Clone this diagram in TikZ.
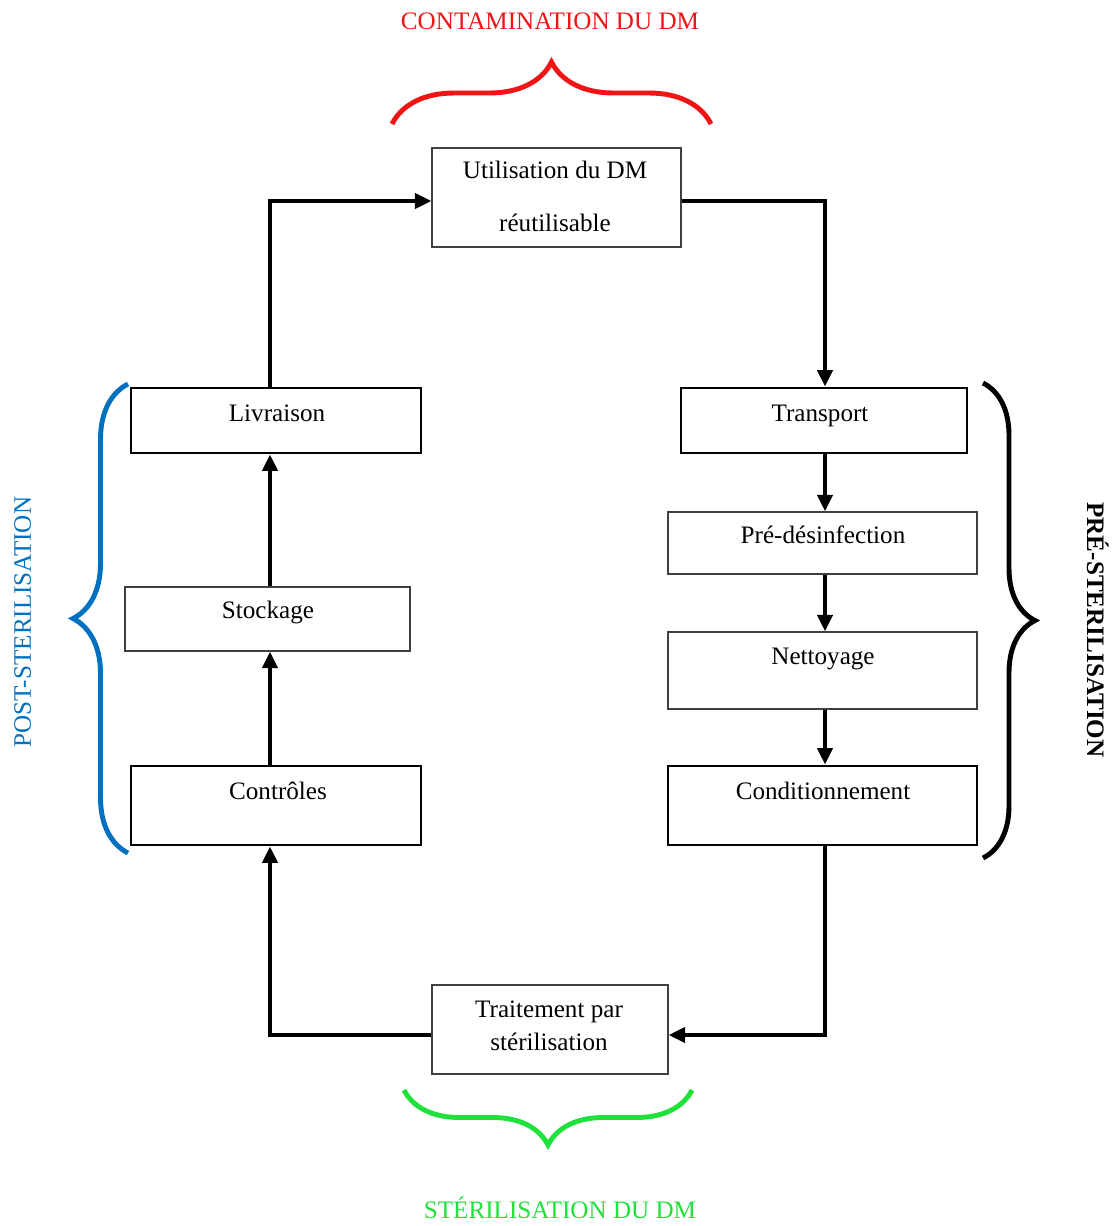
\documentclass[tikz,border=0pt]{standalone}
\usepackage{fontspec}
\setmainfont{Liberation Serif}
\usetikzlibrary{arrows.meta,decorations.pathreplacing}

\definecolor{contred}{RGB}{240,20,20}
\definecolor{sterigreen}{RGB}{30,225,60}
\definecolor{postblue}{RGB}{0,112,192}

\tikzset{
  txt/.style={font=\fontsize{14.3}{17}\selectfont, anchor=base, inner sep=0pt},
  thickbox/.style={draw, line width=1.6pt, inner sep=0pt},
  thinbox/.style={draw=black!75, line width=0.7pt, inner sep=0pt},
  flow/.style={line width=2.4pt, -{Triangle[length=0.33cm,width=0.3cm]}},
  curly/.style={line width=2.8pt, decorate, decoration={brace, amplitude=#1}}
}

\begin{document}
\begin{tikzpicture}[x=0.02cm, y=-0.02cm]
  \useasboundingbox (0,0) rectangle (1114,1226);

	% Boxes
	\node[thinbox, minimum width=4.98cm, minimum height=1.98cm] (util) at (556.5,197.5) {};
	\node[thickbox, minimum width=5.8cm, minimum height=1.3cm] (livr) at (276,420.5) {};
	\node[thickbox, minimum width=5.72cm, minimum height=1.3cm] (transp) at (824,420.5) {};
	\node[thinbox, minimum width=6.18cm, minimum height=1.24cm] (predes) at (822.5,543) {};
	\node[thinbox, minimum width=6.18cm, minimum height=1.54cm] (nett) at (822.5,670.5) {};
	\node[thickbox, minimum width=6.18cm, minimum height=1.58cm] (cond) at (822.5,805.5) {};
	\node[thinbox, minimum width=5.7cm, minimum height=1.28cm] (stock) at (267.5,619) {};
	\node[thickbox, minimum width=5.8cm, minimum height=1.58cm] (contr) at (276,805.5) {};
	\node[thinbox, minimum width=4.72cm, minimum height=1.78cm] (trait) at (550,1029.5) {};

	% Box texts
	\node[txt] (t-util1) at (555,179) {Utilisation du DM};
	\node[txt] (t-util2) at (555,232) {réutilisable};
	\node[txt] (t-livr) at (277,421) {Livraison};
	\node[txt] (t-transp) at (820,421) {Transport};
	\node[txt] (t-predes) at (823,543) {Pré-désinfection};
	\node[txt] (t-nett) at (823,664) {Nettoyage};
	\node[txt] (t-cond) at (823,799) {Conditionnement};
	\node[txt] (t-stock) at (268,618) {Stockage};
	\node[txt] (t-contr) at (278,799) {Contrôles};
	\node[txt] (t-trait1) at (549,1017) {Traitement par};
	\node[txt] (t-trait2) at (549,1050) {stérilisation};

	% Rails of the loop
	\coordinate (leftrail) at (270,1035);
	\coordinate (rightrail) at (825,201);

	% Arrows
	\draw[flow] (livr.north -| leftrail) |- ([yshift=-0.07cm]util.west);
	\draw[flow] ([yshift=-0.07cm]util.east) -| (transp.north -| rightrail);
	\draw[flow] (transp.south -| rightrail) -- (predes.north -| rightrail);
	\draw[flow] (predes.south -| rightrail) -- (nett.north -| rightrail);
	\draw[flow] (nett.south -| rightrail) -- (cond.north -| rightrail);
	\draw[flow] (cond.south -| rightrail) |- ([yshift=-0.11cm]trait.east);
	\draw[flow] ([yshift=-0.11cm]trait.west) -| (contr.south -| leftrail);
	\draw[flow] (contr.north -| leftrail) -- (stock.south -| leftrail);
	\draw[flow] (stock.north -| leftrail) -- (livr.south -| leftrail);

	% Braces
	\draw[curly=1.24cm, contred] (392,124) coordinate (rb0) -- (711,124) coordinate (rb1);
	\draw[curly=1.1cm, sterigreen] (692,1090) coordinate (gb0) -- (404,1090) coordinate (gb1);
	\draw[curly=1.1cm, postblue] (128,853) coordinate (bb0) -- (128,384) coordinate (bb1);
	\draw[curly=1.04cm, black] (983,383) coordinate (kb0) -- (983,858) coordinate (kb1);

	% Phase labels
	\node[txt, contred] (contam) at (550,30) {CONTAMINATION DU DM};
	\node[txt, sterigreen] (steri) at (560,1218) {STÉRILISATION DU DM};
	\node[txt, postblue, rotate=90] (post) at (31,622) {POST-STERILISATION};
	\node[txt, rotate=-90, font=\fontsize{14.3}{17}\selectfont\bfseries] (pre) at (1087,630) {PRÉ-STERILISATION};

\end{tikzpicture}
\end{document}
